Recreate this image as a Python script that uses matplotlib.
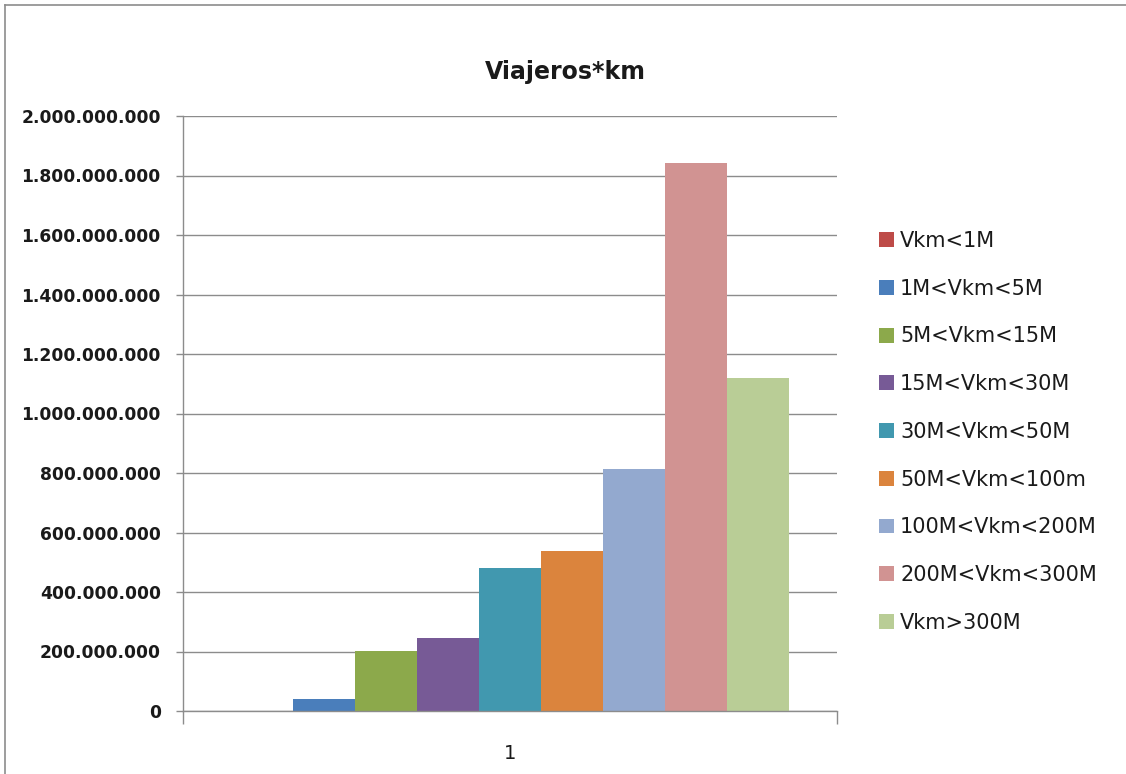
import matplotlib
matplotlib.use("Agg")
import matplotlib.pyplot as plt
from matplotlib.ticker import FuncFormatter
from matplotlib.lines import Line2D

title = "Viajeros*km"
category = ["1"]
series_names = ["Vkm<1M", "1M<Vkm<5M", "5M<Vkm<15M", "15M<Vkm<30M", "30M<Vkm<50M",
                "50M<Vkm<100m", "100M<Vkm<200M", "200M<Vkm<300M", "Vkm>300M"]
values = [500000, 42000000, 201000000, 246000000, 481000000,
          538000000, 813000000, 1842000000, 1119000000]
colors = ["#BE4B48", "#4A7EBB", "#8CA94B", "#775A96", "#4198AF",
          "#DB843D", "#93A9CF", "#D19392", "#B9CD96"]
yticks = [0, 200e6, 400e6, 600e6, 800e6, 1000e6, 1200e6, 1400e6, 1600e6, 1800e6, 2000e6]

W, H = 1126, 774
fig = plt.figure(figsize=(W / 100, H / 100), dpi=100)
ax = fig.add_axes([183 / W, 1 - 711 / H, (837 - 183) / W, (711 - 116) / H])

n = len(values)
bw = 62 / 654
start = -bw * n / 2
for i, (v, c, name) in enumerate(zip(values, colors, series_names)):
    ax.bar(start + bw * (i + 0.5), v, width=bw, color=c, label=name, zorder=2)

ax.set_xlim(-0.5, 0.5)
ax.set_ylim(0, 2000e6)
ax.set_yticks(yticks)
ax.yaxis.set_major_formatter(FuncFormatter(lambda v, p: f"{int(v):,}".replace(",", ".")))
ax.grid(axis="y", color="#8C8C8C", linewidth=1.0, zorder=0)
ax.set_axisbelow(True)

for s in ["top", "right"]:
    ax.spines[s].set_visible(False)
for s in ["left", "bottom"]:
    ax.spines[s].set_color("#8C8C8C")
    ax.spines[s].set_linewidth(1.0)

ax.tick_params(axis="y", direction="out", length=5, width=1, color="#8C8C8C",
               pad=11, labelsize=12.3)
for lab in ax.get_yticklabels():
    lab.set_fontweight("bold")
    lab.set_color("#1a1a1a")

ax.set_xticks([0])
ax.set_xticklabels(category, fontsize=14, color="#1a1a1a")
ax.tick_params(axis="x", which="major", length=0, pad=24)
ax.set_xticks([-0.5, 0.5], minor=True)
ax.tick_params(axis="x", which="minor", direction="out", length=9, width=1, color="#8C8C8C")

fig.text(565 / W, 1 - 72 / H, title, ha="center", va="center", fontsize=17,
         fontweight="bold", color="#1a1a1a")

handles, labels = ax.get_legend_handles_labels()
leg = fig.legend(handles, labels, loc="upper left",
                 bbox_to_anchor=(879 / W, 1 - 231 / H), frameon=False,
                 fontsize=15, labelspacing=1.33, handlelength=0.72, handleheight=0.72,
                 handletextpad=0.29, borderpad=0, borderaxespad=0)
for t in leg.get_texts():
    t.set_color("#1a1a1a")

# outer chart border (left and top visible)
fig.add_artist(Line2D([5 / W, 5 / W], [0, 1 - 5 / H], transform=fig.transFigure,
                      color="#8C8C8C", linewidth=1.2))
fig.add_artist(Line2D([5 / W, 1], [1 - 5 / H, 1 - 5 / H], transform=fig.transFigure,
                      color="#8C8C8C", linewidth=1.2))

fig.savefig("out.png", dpi=100)
